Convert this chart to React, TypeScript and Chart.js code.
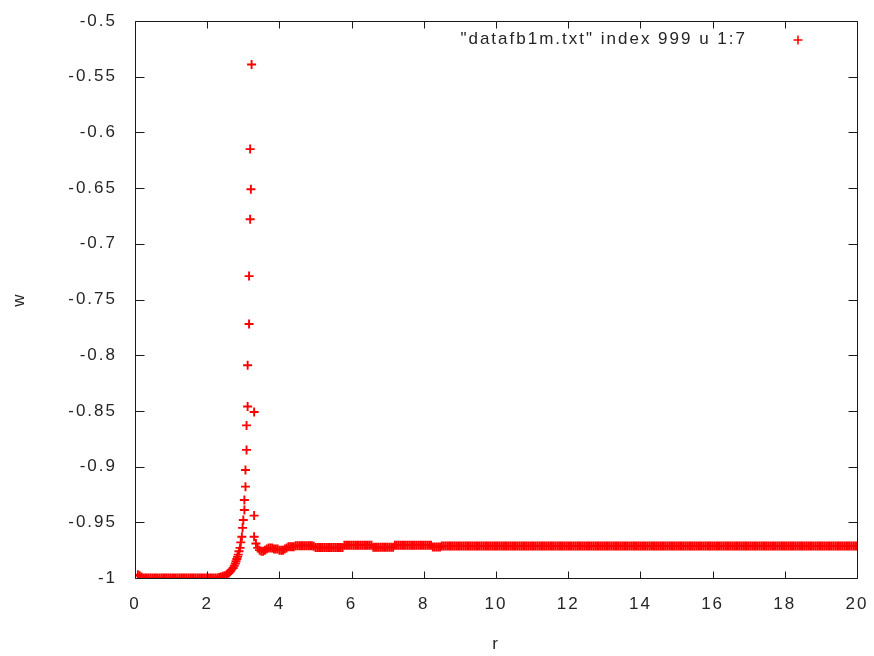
import React, { useEffect, useRef } from 'react';
import { Chart, registerables } from 'chart.js';

Chart.register(...registerables);

const seriesLabel = '"datafb1m.txt" index 999 u 1:7';
const xTitle = 'r';
const yTitle = 'w';
const xTicks = [0, 2, 4, 6, 8, 10, 12, 14, 16, 18, 20];
const yTicks = [-1, -0.95, -0.9, -0.85, -0.8, -0.75, -0.7, -0.65, -0.6, -0.55, -0.5];

// low plateau, sampled every 0.05 in r
const flatStart = 0.08;
const flatStep = 0.05;
const wFlat = [
  -0.997, -0.998, -0.999, -1, -1, -1, -1, -1, -1, -1,
  -1, -1, -1, -1, -1, -1, -1, -1, -1, -1,
  -1, -1, -1, -1, -1, -1, -1, -1, -1, -1,
  -1, -1, -1, -1, -1, -1, -1, -1, -1, -1,
  -1, -1, -1, -1, -1, -0.9995, -0.999, -0.9985, -0.998, -0.9975,
];

// steep rise and spike
const rRise = [2.56, 2.6, 2.64, 2.68, 2.72, 2.75, 2.78, 2.8, 2.82, 2.84, 2.86, 2.88, 2.91, 2.93, 2.96, 2.98, 3.0, 3.03, 3.03, 3.06, 3.06, 3.09, 3.09, 3.12, 3.12, 3.16, 3.16, 3.19, 3.21, 3.19, 3.23, 3.3, 3.3];
const wRise = [-0.9965, -0.9955, -0.994, -0.9925, -0.991, -0.989, -0.987, -0.985, -0.983, -0.981, -0.979, -0.976, -0.973, -0.968, -0.963, -0.955, -0.948, -0.939, -0.93, -0.918, -0.903, -0.885, -0.863, -0.846, -0.809, -0.772, -0.729, -0.678, -0.651, -0.615, -0.539, -0.851, -0.944];

// upper plateau, sampled every 0.05 in r
const plateauStart = 3.3;
const plateauStep = 0.05;
const wPlateau = [
  -0.963, -0.969, -0.973, -0.975, -0.976, -0.976, -0.975, -0.974, -0.973, -0.973,
  -0.973, -0.974, -0.974, -0.974, -0.975, -0.975, -0.975, -0.974, -0.973, -0.972,
  -0.972, -0.972, -0.972, -0.971, -0.971, -0.971, -0.971, -0.971, -0.971, -0.971,
  -0.971, -0.971, -0.971, -0.9715, -0.9727, -0.9727, -0.9727, -0.9727, -0.9727, -0.9727,
  -0.9727, -0.9727, -0.9727, -0.9727, -0.9727, -0.9727, -0.9727, -0.9727, -0.9727, -0.9727,
  -0.9705, -0.9705, -0.9705, -0.9705, -0.9705, -0.9705, -0.9705, -0.9705, -0.9705, -0.9705,
  -0.9705, -0.9705, -0.9705, -0.9705, -0.9705, -0.9705, -0.9725, -0.9725, -0.9725, -0.9725,
  -0.9725, -0.9725, -0.9725, -0.9725, -0.9725, -0.9725, -0.9725, -0.9725, -0.9705, -0.9705,
  -0.9705, -0.9705, -0.9705, -0.9705, -0.9705, -0.9705, -0.9705, -0.9705, -0.9705, -0.9705,
  -0.9705, -0.9705, -0.9705, -0.9705, -0.9705, -0.9705, -0.9705, -0.9705, -0.9705, -0.9722,
  -0.9722, -0.9722, -0.9722, -0.9722, -0.9712, -0.9712, -0.9712, -0.9712, -0.9712, -0.9712,
  -0.9712, -0.9712, -0.9712, -0.9712, -0.9712, -0.9712, -0.9712, -0.9712, -0.9712, -0.9712,
  -0.9712, -0.9712, -0.9712, -0.9712, -0.9712, -0.9712, -0.9712, -0.9712, -0.9712, -0.9712,
  -0.9712, -0.9712, -0.9712, -0.9712, -0.9712, -0.9712, -0.9712, -0.9712, -0.9712, -0.9712,
  -0.9712, -0.9712, -0.9712, -0.9712, -0.9712, -0.9712, -0.9712, -0.9712, -0.9712, -0.9712,
  -0.9712, -0.9712, -0.9712, -0.9712, -0.9712, -0.9712, -0.9712, -0.9712, -0.9712, -0.9712,
  -0.9712, -0.9712, -0.9712, -0.9712, -0.9712, -0.9712, -0.9712, -0.9712, -0.9712, -0.9712,
  -0.9712, -0.9712, -0.9712, -0.9712, -0.9712, -0.9712, -0.9712, -0.9712, -0.9712, -0.9712,
  -0.9712, -0.9712, -0.9712, -0.9712, -0.9712, -0.9712, -0.9712, -0.9712, -0.9712, -0.9712,
  -0.9712, -0.9712, -0.9712, -0.9712, -0.9712, -0.9712, -0.9712, -0.9712, -0.9712, -0.9712,
  -0.9712, -0.9712, -0.9712, -0.9712, -0.9712, -0.9712, -0.9712, -0.9712, -0.9712, -0.9712,
  -0.9712, -0.9712, -0.9712, -0.9712, -0.9712, -0.9712, -0.9712, -0.9712, -0.9712, -0.9712,
  -0.9712, -0.9712, -0.9712, -0.9712, -0.9712, -0.9712, -0.9712, -0.9712, -0.9712, -0.9712,
  -0.9712, -0.9712, -0.9712, -0.9712, -0.9712, -0.9712, -0.9712, -0.9712, -0.9712, -0.9712,
  -0.9712, -0.9712, -0.9712, -0.9712, -0.9712, -0.9712, -0.9712, -0.9712, -0.9712, -0.9712,
  -0.9712, -0.9712, -0.9712, -0.9712, -0.9712, -0.9712, -0.9712, -0.9712, -0.9712, -0.9712,
  -0.9712, -0.9712, -0.9712, -0.9712, -0.9712, -0.9712, -0.9712, -0.9712, -0.9712, -0.9712,
  -0.9712, -0.9712, -0.9712, -0.9712, -0.9712, -0.9712, -0.9712, -0.9712, -0.9712, -0.9712,
  -0.9712, -0.9712, -0.9712, -0.9712, -0.9712, -0.9712, -0.9712, -0.9712, -0.9712, -0.9712,
  -0.9712, -0.9712, -0.9712, -0.9712, -0.9712, -0.9712, -0.9712, -0.9712, -0.9712, -0.9712,
  -0.9712, -0.9712, -0.9712, -0.9712, -0.9712, -0.9712, -0.9712, -0.9712, -0.9712, -0.9712,
  -0.9712, -0.9712, -0.9712, -0.9712, -0.9712, -0.9712, -0.9712, -0.9712, -0.9712, -0.9712,
  -0.9712, -0.9712, -0.9712, -0.9712, -0.9712, -0.9712, -0.9712, -0.9712, -0.9712, -0.9712,
  -0.9712, -0.9712, -0.9712, -0.9712, -0.9712,
];

const RED = '#ff0000';
const TEXT = '#262626';
const FONT_FAMILY = '"Liberation Sans", Arial, sans-serif';
const FONT_SIZE = 17;

function buildPoints() {
  const pts: { x: number; y: number }[] = [];
  wFlat.forEach((w, i) => pts.push({ x: flatStart + i * flatStep, y: w }));
  rRise.forEach((r, i) => pts.push({ x: r, y: wRise[i] }));
  wPlateau.forEach((w, i) => pts.push({ x: plateauStart + i * plateauStep, y: w }));
  return pts;
}

function clearScalePadding(s: any) {
  s.paddingTop = 0;
  s.paddingBottom = 0;
  s.paddingLeft = 0;
  s.paddingRight = 0;
}

const gnuplotFrame = {
  id: 'gnuplotFrame',
  beforeUpdate(chart: any) {
    chart.ctx.letterSpacing = '2px';
  },
  beforeDraw(chart: any) {
    chart.ctx.letterSpacing = '2px';
  },
  afterDatasetsDraw(chart: any) {
    const { ctx, chartArea: a, scales } = chart;
    const xs = scales.x;
    const ys = scales.y;
    const L = Math.round(a.left) + 0.5;
    const R = Math.round(a.right) + 0.5;
    const T = Math.round(a.top) + 0.5;
    const B = Math.round(a.bottom) + 0.5;
    ctx.save();
    ctx.strokeStyle = '#1a1a1a';
    ctx.lineWidth = 1;
    ctx.beginPath();
    ctx.rect(L, T, R - L, B - T);
    xTicks.forEach((v) => {
      const p = Math.round(xs.getPixelForValue(v)) + 0.5;
      ctx.moveTo(p, B);
      ctx.lineTo(p, B - 7);
      ctx.moveTo(p, T);
      ctx.lineTo(p, T + 7);
    });
    yTicks.forEach((v) => {
      const p = Math.round(ys.getPixelForValue(v)) + 0.5;
      ctx.moveTo(L, p);
      ctx.lineTo(L + 9, p);
      ctx.moveTo(R, p);
      ctx.lineTo(R - 9, p);
    });
    ctx.stroke();

    // key
    ctx.letterSpacing = '2px';
    ctx.font = `${FONT_SIZE}px ${FONT_FAMILY}`;
    ctx.fillStyle = TEXT;
    ctx.textAlign = 'right';
    ctx.textBaseline = 'middle';
    const ky = a.top + 18;
    ctx.fillText(seriesLabel, a.right - 110, ky);
    const kx = a.right - 59;
    ctx.strokeStyle = RED;
    ctx.lineWidth = 1.5;
    ctx.beginPath();
    ctx.moveTo(kx - 4.5, ky + 1);
    ctx.lineTo(kx + 4.5, ky + 1);
    ctx.moveTo(kx, ky + 1 - 4.5);
    ctx.lineTo(kx, ky + 1 + 4.5);
    ctx.stroke();
    ctx.restore();
  },
};

export default function App() {
  const ref = useRef<HTMLCanvasElement | null>(null);

  useEffect(() => {
    const canvas = ref.current;
    if (!canvas) return;
    const font = { family: FONT_FAMILY, size: FONT_SIZE };
    const chart = new Chart(canvas, {
      type: 'scatter',
      data: {
        datasets: [
          {
            label: seriesLabel,
            data: buildPoints(),
            pointStyle: 'cross',
            pointRadius: 4.5,
            pointBorderWidth: 1.9,
            borderColor: RED,
            backgroundColor: RED,
            pointHoverRadius: 4.5,
          },
        ],
      },
      options: {
        animation: false,
        responsive: false,
        devicePixelRatio: 1,
        events: [],
        layout: { padding: { left: 0, right: 17, top: 21, bottom: 0 } },
        plugins: {
          legend: { display: false },
          tooltip: { enabled: false },
        },
        scales: {
          x: {
            type: 'linear',
            min: 0,
            max: 20,
            grid: { display: false, drawTicks: false },
            border: { display: false },
            ticks: { color: TEXT, font, padding: 16, maxRotation: 0, autoSkip: false },
            afterBuildTicks: (s: any) => {
              s.ticks = xTicks.map((v) => ({ value: v }));
            },
            afterFit: (s: any) => {
              s.height = 78;
              clearScalePadding(s);
            },
            title: { display: true, text: xTitle, color: TEXT, font, padding: { top: 0, bottom: 1 } },
          },
          y: {
            type: 'linear',
            min: -1,
            max: -0.5,
            grid: { display: false, drawTicks: false },
            border: { display: false },
            ticks: {
              color: TEXT,
              font,
              padding: 18,
              autoSkip: false,
              callback: (v: any) => String(Number(Number(v).toFixed(2))),
            },
            afterBuildTicks: (s: any) => {
              s.ticks = yTicks.map((v) => ({ value: v }));
            },
            afterFit: (s: any) => {
              s.width = 135;
              clearScalePadding(s);
            },
            title: { display: true, text: yTitle, color: TEXT, font, padding: { top: 9, bottom: 0 } },
          },
        },
      },
      plugins: [gnuplotFrame],
    });
    return () => chart.destroy();
  }, []);

  return (
    <div style={{ position: 'absolute', left: 0, top: 0, width: 874, height: 656, background: '#fff' }}>
      <canvas ref={ref} width={874} height={656} />
    </div>
  );
}
